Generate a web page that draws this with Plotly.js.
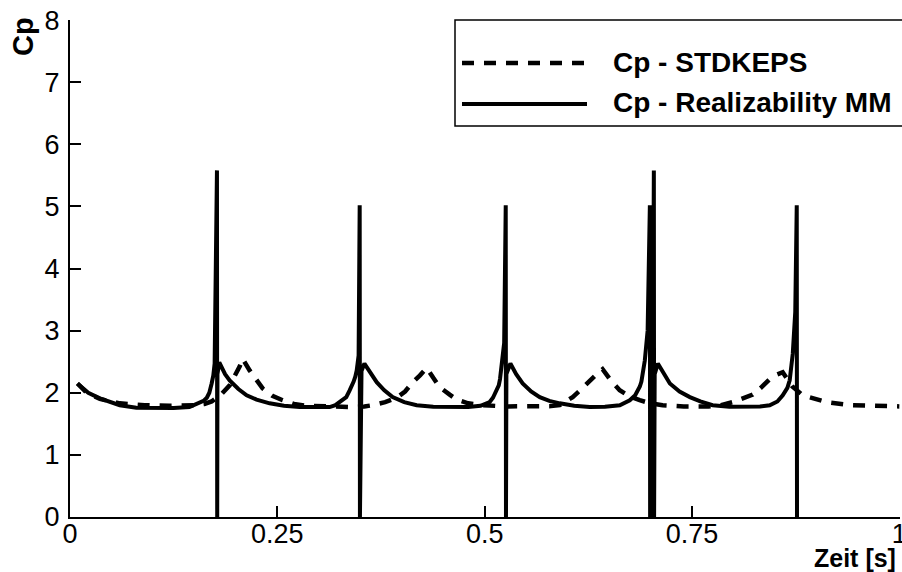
<!DOCTYPE html>
<html>
<head>
<meta charset="utf-8">
<script src="https://cdn.plot.ly/plotly-3.0.1.min.js"></script>
<style>html,body{margin:0;padding:0;background:#fff;}</style>
</head>
<body>
<div id="chart" style="width:902px;height:572px;"></div>
<script>
// ---- data ----
const seriesNames = ["Cp - STDKEPS", "Cp - Realizability MM"];

const stdX = [0.009,0.020,0.036,0.060,0.090,0.120,0.150,0.162,0.1708,0.182,0.1925,0.2045,0.2081,0.2166,0.2323,0.244,0.2564,0.270,0.2853,0.310,0.3408,0.355,0.3649,0.380,0.3939,0.404,0.4132,0.422,0.4301,0.438,0.4458,0.4578,0.4662,0.480,0.4975,0.525,0.554,0.580,0.5905,0.599,0.6061,0.616,0.6267,0.635,0.6422,0.652,0.6628,0.675,0.6869,0.700,0.7146,0.740,0.770,0.785,0.7991,0.811,0.8232,0.833,0.8437,0.852,0.8594,0.865,0.871,0.8835,0.898,0.9125,0.940,0.970,1.0];
const stdY = [2.15,2.00,1.90,1.83,1.80,1.79,1.80,1.82,1.86,1.97,2.12,2.42,2.55,2.36,2.07,1.95,1.88,1.82,1.79,1.775,1.77,1.78,1.80,1.85,1.92,2.02,2.17,2.28,2.40,2.24,2.09,1.97,1.89,1.83,1.80,1.78,1.78,1.785,1.80,1.86,1.93,2.05,2.20,2.30,2.38,2.20,2.04,1.94,1.88,1.83,1.80,1.78,1.78,1.80,1.85,1.90,1.97,2.08,2.22,2.29,2.33,2.22,2.10,1.96,1.90,1.85,1.80,1.785,1.78];

const rmmX = [0.009,0.022,0.036,0.048,0.060,0.080,0.102,0.125,0.144,0.156,0.161,0.165,0.168,0.1708,0.1728,0.1744,0.1772,0.1775,0.1778,0.1800,0.1830,0.1870,0.1925,0.1980,0.2030,0.213,0.225,0.2407,0.258,0.2769,0.300,0.3131,0.320,0.3252,0.329,0.3331,0.3372,0.340,0.342,0.3440,0.3457,0.348,0.3493,0.3496,0.3515,0.3550,0.3585,0.362,0.3698,0.379,0.389,0.403,0.418,0.438,0.4578,0.480,0.495,0.502,0.506,0.510,0.5145,0.5170,0.5185,0.5205,0.5235,0.5254,0.5257,0.5262,0.5310,0.5345,0.538,0.5458,0.556,0.5664,0.578,0.5905,0.608,0.6267,0.645,0.6629,0.670,0.675,0.6815,0.6845,0.6871,0.6890,0.6905,0.6931,0.6965,0.6992,0.6995,0.7005,0.7030,0.7040,0.7043,0.7050,0.7088,0.7125,0.716,0.7233,0.735,0.7474,0.760,0.7749,0.795,0.816,0.832,0.8437,0.849,0.853,0.8594,0.8625,0.865,0.8678,0.8715,0.8745,0.8763,0.8766];
const rmmY = [2.15,2.00,1.91,1.85,1.80,1.76,1.75,1.755,1.77,1.83,1.87,1.92,2.00,2.15,2.28,2.47,5.58,0,2.30,2.49,2.40,2.30,2.20,2.12,2.06,1.96,1.89,1.83,1.79,1.77,1.765,1.77,1.80,1.85,1.88,1.93,2.04,2.11,2.18,2.26,2.36,2.60,5.02,0,2.35,2.47,2.40,2.32,2.17,2.04,1.93,1.85,1.80,1.775,1.77,1.77,1.79,1.82,1.85,1.92,2.04,2.12,2.22,2.41,2.80,5.02,0,2.30,2.47,2.38,2.30,2.15,2.02,1.93,1.87,1.83,1.79,1.77,1.775,1.80,1.84,1.88,1.96,2.02,2.10,2.18,2.28,2.52,3.00,5.02,0,2.30,2.60,5.58,0,2.30,2.47,2.38,2.30,2.15,2.02,1.93,1.86,1.80,1.775,1.77,1.78,1.80,1.83,1.86,1.96,2.02,2.08,2.20,2.63,3.30,5.02,0];

const xTickVals = [0, 0.25, 0.5, 0.75, 1];
const xTickText = ["0", "0.25", "0.5", "0.75", "1"];
const yTickVals = [0,1,2,3,4,5,6,7,8];
const yTickText = ["0","1","2","3","4","5","6","7","8"];

// ---- layout helpers (pixel -> paper, for legend/labels only) ----
const L = 70, R = 900, T = 20, B = 517;
const pxX = p => (p - L) / (R - L);
const pxY = p => (B - p) / (B - T);

const FONT = "Liberation Sans, Arial, Helvetica, sans-serif";
const dashPat = "12px,10px";

const traces = [
  {x: stdX, y: stdY, type: "scatter", mode: "lines", name: seriesNames[0],
   line: {color: "#000", width: 4.5, dash: dashPat}, showlegend: false},
  {x: rmmX, y: rmmY, type: "scatter", mode: "lines", name: seriesNames[1],
   line: {color: "#000", width: 4}, showlegend: false}
];

const axisCommon = {
  showgrid: false, zeroline: false, showline: true, linecolor: "#000", linewidth: 2,
  ticks: "inside", ticklen: 11, tickwidth: 2, tickcolor: "#000",
  tickfont: {family: FONT, size: 27, color: "#000"}, mirror: false,
  ticklabeloverflow: "allow"
};

const layout = {
  width: 902, height: 572,
  margin: {l: L, r: 902 - R, t: T, b: 572 - B},
  paper_bgcolor: "#fff", plot_bgcolor: "#fff",
  showlegend: false,
  xaxis: Object.assign({}, axisCommon, {range: [0, 1.0008], tickmode: "array", tickvals: xTickVals, ticktext: xTickText, ticklabelstandoff: -8}),
  yaxis: Object.assign({}, axisCommon, {range: [0, 8.001], tickmode: "array", tickvals: yTickVals, ticktext: yTickText, ticklabelstandoff: 3}),
  shapes: [
    {type: "rect", xref: "paper", yref: "paper", x0: pxX(455), x1: pxX(910), y0: pxY(126), y1: pxY(20),
     line: {color: "#000", width: 1.5}, fillcolor: "rgba(255,255,255,1)", layer: "above"},
    {type: "line", xref: "paper", yref: "paper", x0: pxX(462), x1: pxX(587), y0: pxY(63), y1: pxY(63),
     line: {color: "#000", width: 4.5, dash: dashPat}},
    {type: "line", xref: "paper", yref: "paper", x0: pxX(462), x1: pxX(587), y0: pxY(104), y1: pxY(104),
     line: {color: "#000", width: 4}}
  ],
  annotations: [
    {text: "<b>" + seriesNames[0] + "</b>", xref: "paper", yref: "paper", x: pxX(611), y: pxY(62),
     xanchor: "left", yanchor: "middle", showarrow: false, font: {family: FONT, size: 28, color: "#000"}},
    {text: "<b>" + seriesNames[1] + "</b>", xref: "paper", yref: "paper", x: pxX(611), y: pxY(103),
     xanchor: "left", yanchor: "middle", showarrow: false, font: {family: FONT, size: 28, color: "#000"}},
    {text: "<b>Cp</b>", xref: "paper", yref: "paper", x: pxX(23), y: pxY(37),
     xanchor: "center", yanchor: "middle", textangle: -90, showarrow: false, font: {family: FONT, size: 29, color: "#000"}},
    {text: "<b>Zeit [s]</b>", xref: "paper", yref: "paper", x: pxX(898), y: pxY(558),
     xanchor: "right", yanchor: "middle", showarrow: false, font: {family: FONT, size: 25, color: "#000"}}
  ]
};

Plotly.newPlot("chart", traces, layout, {displayModeBar: false, staticPlot: true});
</script>
</body>
</html>
